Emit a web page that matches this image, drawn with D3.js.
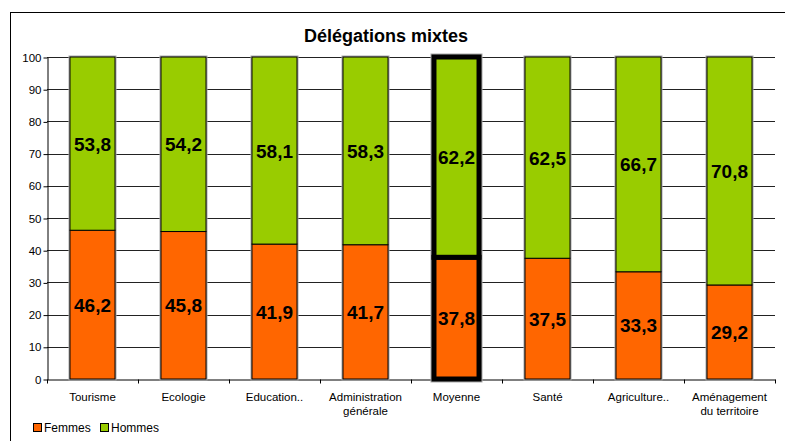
<!DOCTYPE html>
<html>
<head>
<meta charset="utf-8">
<script src="https://cdn.jsdelivr.net/npm/d3@7"></script>
<style>
  body { margin: 0; background: #fff; }
  svg { font-family: "Liberation Sans", Arial, sans-serif; }
</style>
</head>
<body>
<div id="chart"></div>
<script>
var categories = ["Tourisme", "Ecologie", "Education..", "Administration\ngénérale", "Moyenne", "Santé", "Agriculture..", "Aménagement\ndu territoire"];
var femmes = [46.2, 45.8, 41.9, 41.7, 37.8, 37.5, 33.3, 29.2];
var hommes = [53.8, 54.2, 58.1, 58.3, 62.2, 62.5, 66.7, 70.8];
var yTicks = [0, 10, 20, 30, 40, 50, 60, 70, 80, 90, 100];
var highlight = "Moyenne";

var WIDTH = 785, HEIGHT = 441,
  MARGINS = { top: 57, right: 10, bottom: 62, left: 47 };

var svg = d3.select("#chart").append("svg")
  .attr("width", WIDTH)
  .attr("height", HEIGHT);

// outer frame (bottom/right beyond the picture)
svg.append("rect")
  .attr("x", 10.5).attr("y", 12.5)
  .attr("width", WIDTH).attr("height", HEIGHT)
  .attr("fill", "none").attr("stroke", "#000").attr("stroke-width", 1);

var xRange = d3.scaleBand().domain(categories)
  .range([MARGINS.left, WIDTH - MARGINS.right]).paddingInner(0.505).paddingOuter(0.2525);
var xOuter = d3.scaleBand().domain(categories)
  .range([MARGINS.left, WIDTH - MARGINS.right]);
var yRange = d3.scaleLinear().domain([0, 100])
  .range([HEIGHT - MARGINS.bottom, MARGINS.top]);

// gridlines
svg.append("g").selectAll("line").data(yTicks.slice(1)).enter().append("line")
  .attr("x1", MARGINS.left).attr("x2", WIDTH - MARGINS.right)
  .attr("y1", function (d) { return Math.round(yRange(d)) + 0.5; })
  .attr("y2", function (d) { return Math.round(yRange(d)) + 0.5; })
  .attr("stroke", "#222").attr("stroke-width", 1);

// y axis
var yAxis = d3.axisLeft(yRange).tickValues(yTicks).tickSize(4).tickSizeOuter(0);
var yg = svg.append("g")
  .attr("transform", "translate(" + (MARGINS.left + 0.5) + ",0.5)")
  .call(yAxis);
yg.selectAll("text").style("font-size", "11.5px").attr("fill", "#000").attr("x", -6);
yg.selectAll("line, path").attr("stroke", "#000");

// x axis
var xAxis = d3.axisBottom(xOuter).tickSize(0).tickSizeOuter(0).tickFormat("");
var xg = svg.append("g")
  .attr("transform", "translate(0," + (Math.round(yRange(0)) + 0.5) + ")")
  .call(xAxis);
xg.select("path").attr("stroke", "#000");
// tick marks between categories
xg.selectAll(".sep").data(d3.range(categories.length + 1)).enter().append("line")
  .attr("x1", function (i) { return Math.round(MARGINS.left + i * xOuter.bandwidth()) + 0.5; })
  .attr("x2", function (i) { return Math.round(MARGINS.left + i * xOuter.bandwidth()) + 0.5; })
  .attr("y1", 0).attr("y2", 4).attr("stroke", "#000");

// category labels
categories.forEach(function (c) {
  var t = svg.append("text")
    .attr("x", xOuter(c) + xOuter.bandwidth() / 2)
    .attr("y", yRange(0) + 22)
    .attr("text-anchor", "middle")
    .style("font-size", "11.5px")
    .attr("fill", "#000");
  c.split("\n").forEach(function (line, j) {
    t.append("tspan").attr("x", xOuter(c) + xOuter.bandwidth() / 2)
      .attr("dy", j === 0 ? 0 : 14).text(line);
  });
});

// bars
var bars = svg.append("g");
categories.forEach(function (c, i) {
  var hl = c === highlight;
  var sw = hl ? 5 : 1;
  var x0 = xRange(c), bw = xRange.bandwidth();
  var segs = [
    { y0: 0, y1: femmes[i], color: "#FF6600" },
    { y0: femmes[i], y1: 100, color: "#99CC00" }
  ];
  // soft gray halo around the whole bar
  bars.append("rect")
    .attr("x", x0).attr("y", yRange(100))
    .attr("width", bw).attr("height", yRange(0) - yRange(100))
    .attr("fill", "none").attr("stroke", "#aaa").attr("stroke-width", sw + 2);
  segs.forEach(function (s) {
    var top = yRange(s.y1), bot = yRange(s.y0);
    bars.append("rect")
      .attr("x", x0).attr("y", top)
      .attr("width", bw).attr("height", bot - top)
      .attr("fill", s.color).attr("stroke", "#000").attr("stroke-width", sw);
  });
});

// value labels
var fmt = function (v) { return v.toFixed(1).replace(".", ","); };
categories.forEach(function (c, i) {
  var cx = xRange(c) + xRange.bandwidth() / 2;
  svg.append("text")
    .attr("x", cx).attr("y", (yRange(0) + yRange(femmes[i])) / 2 + 7)
    .attr("text-anchor", "middle").style("font-size", "19px").style("font-weight", "bold")
    .text(fmt(femmes[i]));
  svg.append("text")
    .attr("x", cx).attr("y", (yRange(femmes[i]) + yRange(100)) / 2 + 7)
    .attr("text-anchor", "middle").style("font-size", "19px").style("font-weight", "bold")
    .text(fmt(hommes[i]));
});

// title
svg.append("text")
  .attr("x", 386).attr("y", 42)
  .attr("text-anchor", "middle")
  .style("font-size", "18px").style("font-weight", "bold")
  .text("Délégations mixtes");

// legend
var legend = [{ name: "Femmes", color: "#FF6600", x: 33 }, { name: "Hommes", color: "#99CC00", x: 100 }];
legend.forEach(function (l) {
  svg.append("rect")
    .attr("x", l.x + 0.5).attr("y", 423.5).attr("width", 8).attr("height", 8)
    .attr("fill", l.color).attr("stroke", "#000");
  svg.append("text")
    .attr("x", l.x + 11).attr("y", 432)
    .style("font-size", "12px")
    .text(l.name);
});
</script>
</body>
</html>
